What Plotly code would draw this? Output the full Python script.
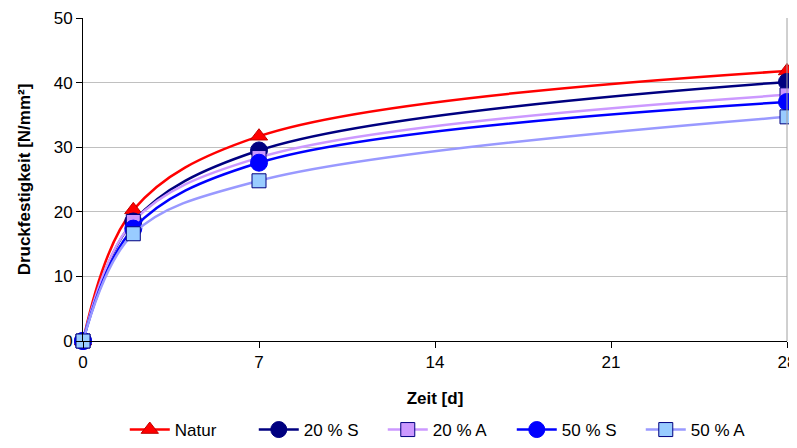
import plotly.graph_objects as go

days = [0, 2, 7, 28]
natur = [0, 20.3, 31.7, 41.8]
s20 = [0, 18.5, 29.5, 40.1]
a20 = [0, 18.5, 28.4, 38.1]
s50 = [0, 17.4, 27.6, 37.0]
a50 = [0, 16.6, 24.8, 34.7]

series = [
    ("Natur", natur, "#FF0000", "triangle-up", "#FF0000", "#C00000", 15),
    ("20 % S", s20, "#000080", "circle", "#000080", "#000080", 17),
    ("20 % A", a20, "#CC99FF", "square", "#CC99FF", "#000080", 14),
    ("50 % S", s50, "#0000FF", "circle", "#0000FF", "#0000FF", 17),
    ("50 % A", a50, "#9999FF", "square", "#99CCFF", "#000080", 14),
]

fig = go.Figure()
for name, vals, lc, sym, fc, mlc, size in series:
    fig.add_trace(go.Scatter(
        x=days, y=vals, name=name, mode="lines+markers",
        line=dict(color=lc, width=2.5, shape="spline", smoothing=1.0),
        marker=dict(symbol=sym, size=size, color=fc, line=dict(color=mlc, width=1)),
    ))

fig.update_layout(
    width=789, height=440,
    margin=dict(l=75, r=10, t=10, b=107, autoexpand=False),
    paper_bgcolor="white", plot_bgcolor="white",
    font=dict(family="Liberation Sans, Arial, sans-serif", size=17, color="black"),
    showlegend=True,
    legend=dict(orientation="h", x=0.148, xanchor="left", xref="container",
                y=-0.02, yanchor="bottom", yref="container",
                font=dict(size=17), entrywidth=74, entrywidthmode="pixels",
                traceorder="normal", itemwidth=40),
    shapes=[dict(type="line", xref="paper", yref="paper", x0=1, x1=1, y0=0, y1=1,
                 line=dict(color="#a0a0a0", width=1))],
)
fig.update_xaxes(
    range=[0, 28], tickvals=[0, 7, 14, 21, 28],
    showline=True, linecolor="black", linewidth=1,
    ticks="outside", ticklen=6, tickcolor="black",
    showgrid=False, zeroline=False,
    tickfont=dict(size=17),
    title=dict(text="<b>Zeit [d]</b>", font=dict(size=17), standoff=20),
)
fig.update_yaxes(
    range=[0, 50], tickvals=[0, 10, 20, 30, 40, 50],
    showline=True, linecolor="black", linewidth=1,
    ticks="outside", ticklen=6, tickcolor="black",
    showgrid=True, gridcolor="#c0c0c0", gridwidth=1, zeroline=False,
    tickfont=dict(size=17),
    title=dict(text="<b>Druckfestigkeit [N/mm²]</b>", font=dict(size=17), standoff=18),
)
fig.update_traces(cliponaxis=False)

fig.write_html("out.html")
